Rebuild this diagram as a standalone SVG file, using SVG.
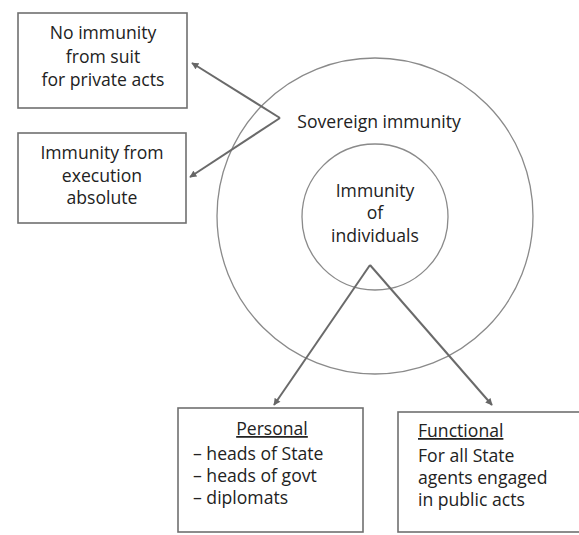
<svg xmlns="http://www.w3.org/2000/svg" width="579" height="535" viewBox="0 0 579 535">
<defs>
<marker id="ah" viewBox="0 0 10 10" refX="9" refY="5" markerWidth="8" markerHeight="7" markerUnits="userSpaceOnUse" orient="auto">
<path d="M0,0 L10,5 L0,10 z" fill="#666"/>
</marker>
<style>
.box{fill:#fff;stroke:#707070;stroke-width:1.6}
.circ{fill:none;stroke:#8a8a8a;stroke-width:1.3}
.t{font-family:"Open Sans","Liberation Sans",sans-serif;font-size:17.6px;fill:#222}
.c{text-anchor:middle}
.conn{stroke:#6a6a6a;stroke-width:2;fill:none;marker-end:url(#ah)}
</style>
</defs>
<rect width="579" height="535" fill="#fff"/>
<g id="sovereign">
<circle class="circ" cx="375" cy="216" r="158"/>
<text class="t c" x="379" y="128">Sovereign immunity</text>
</g>
<g id="individuals">
<circle class="circ" cx="375" cy="217" r="73"/>
<text class="t c" x="375" y="197">Immunity</text>
<text class="t c" x="375" y="219">of</text>
<text class="t c" x="375" y="242">individuals</text>
</g>
<g id="no-immunity">
<rect class="box" x="18" y="13" width="169" height="95"/>
<text class="t c" x="103" y="39">No immunity</text>
<text class="t c" x="103" y="63">from suit</text>
<text class="t c" x="103" y="86">for private acts</text>
</g>
<g id="execution">
<rect class="box" x="18" y="133" width="168" height="90"/>
<text class="t c" x="102" y="159">Immunity from</text>
<text class="t c" x="102" y="182">execution</text>
<text class="t c" x="102" y="204">absolute</text>
</g>
<g id="personal">
<rect class="box" x="178" y="408" width="185" height="124"/>
<text class="t c" x="272" y="435" text-decoration="underline">Personal</text>
<text class="t" x="193" y="460">– heads of State</text>
<text class="t" x="193" y="482">– heads of govt</text>
<text class="t" x="193" y="504">– diplomats</text>
</g>
<g id="functional">
<rect class="box" x="398" y="412" width="200" height="120"/>
<text class="t" x="418" y="437" text-decoration="underline">Functional</text>
<text class="t" x="418" y="462">For all State</text>
<text class="t" x="418" y="484">agents engaged</text>
<text class="t" x="418" y="506">in public acts</text>
</g>
<g id="connectors">
<line class="conn" x1="280" y1="118" x2="192" y2="63"/>
<line class="conn" x1="280" y1="118" x2="190" y2="177"/>
<line class="conn" x1="370" y1="265" x2="274" y2="405"/>
<line class="conn" x1="370" y1="265" x2="492" y2="405"/>
</g>
</svg>
